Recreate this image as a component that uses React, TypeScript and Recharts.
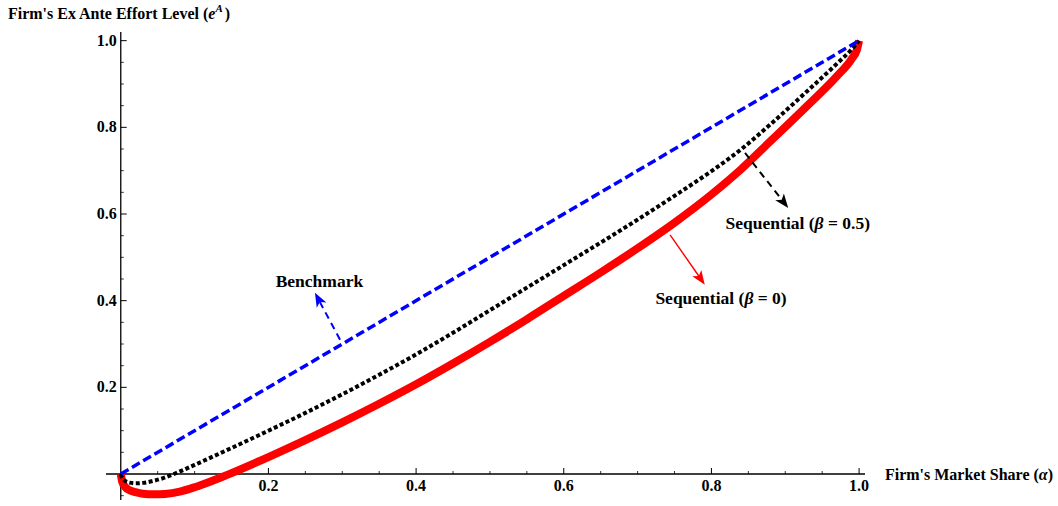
import React from 'react';
import { LineChart, Line, XAxis, YAxis, ReferenceLine, ReferenceDot } from 'recharts';

// Firm's market share (alpha) and ex ante effort level for each series
const benchAlpha = [0, 1];
const benchEffort = [0, 1];

const seqHalfAlpha = [0, 0.002, 0.006, 0.012, 0.02, 0.03, 0.045, 0.06, 0.072, 0.1, 0.15, 0.2, 0.25, 0.3, 0.35, 0.4, 0.45, 0.5, 0.55, 0.6, 0.65, 0.7, 0.75, 0.8, 0.84, 0.88, 0.93, 0.97, 0.99, 1.0];
const seqHalfEffort = [0, -0.01, -0.016, -0.02, -0.0215, -0.0205, -0.0155, -0.008, 0, 0.021, 0.06, 0.1, 0.141, 0.184, 0.229, 0.276, 0.326, 0.378, 0.43, 0.482, 0.534, 0.587, 0.642, 0.699, 0.749, 0.807, 0.884, 0.947, 0.98, 1.0];

const seqZeroAlpha = [0, 0.002, 0.006, 0.012, 0.02, 0.03, 0.045, 0.06, 0.08, 0.1, 0.125, 0.15, 0.2, 0.25, 0.3, 0.35, 0.4, 0.45, 0.5, 0.55, 0.6, 0.65, 0.7, 0.75, 0.8, 0.84, 0.88, 0.93, 0.97, 0.99, 0.997, 1.0];
const seqZeroEffort = [0, -0.018, -0.03, -0.0375, -0.042, -0.0455, -0.047, -0.046, -0.0405, -0.0305, -0.015, 0.002, 0.039, 0.078, 0.119, 0.162, 0.207, 0.255, 0.305, 0.357, 0.411, 0.465, 0.521, 0.58, 0.645, 0.703, 0.768, 0.85, 0.918, 0.958, 0.979, 1.0];

// Axis ticks
const majorTicks = [0.2, 0.4, 0.6, 0.8, 1.0];
const majorTickLabels = ['0.2', '0.4', '0.6', '0.8', '1.0'];
const xMinorTicks = [0.05, 0.1, 0.15, 0.25, 0.3, 0.35, 0.45, 0.5, 0.55, 0.65, 0.7, 0.75, 0.85, 0.9, 0.95];
const yMinorTicks = [-0.05, 0.05, 0.1, 0.15, 0.25, 0.3, 0.35, 0.45, 0.5, 0.55, 0.65, 0.7, 0.75, 0.85, 0.9, 0.95];

const X_DOMAIN = [-0.02, 1.008];
const Y_DOMAIN = [-0.06, 1.02];

const toRows = (xs: number[], ys: number[]) => xs.map((x, i) => ({ x, y: ys[i] }));
const benchData = toRows(benchAlpha, benchEffort);
const seqHalfData = toRows(seqHalfAlpha, seqHalfEffort);
const seqZeroData = toRows(seqZeroAlpha, seqZeroEffort);

const FONT = "'Liberation Serif', 'Times New Roman', serif";

const arrowShape = (color: string, width: number, dash?: string) => (props: any) => {
  const { x1, y1, x2, y2 } = props;
  const dx = x2 - x1;
  const dy = y2 - y1;
  const len = Math.sqrt(dx * dx + dy * dy) || 1;
  const ux = dx / len;
  const uy = dy / len;
  const nx = -uy;
  const ny = ux;
  const L = 14;
  const W = 5.5;
  const bx = x2 - ux * L;
  const by = y2 - uy * L;
  const nxb = x2 - ux * L * 0.75;
  const nyb = y2 - uy * L * 0.75;
  const pts = [
    `${x2},${y2}`,
    `${bx + nx * W},${by + ny * W}`,
    `${nxb},${nyb}`,
    `${bx - nx * W},${by - ny * W}`,
  ].join(' ');
  return (
    <g>
      <line x1={x1} y1={y1} x2={nxb} y2={nyb} stroke={color} strokeWidth={width} strokeDasharray={dash} />
      <polygon points={pts} fill={color} stroke="none" />
    </g>
  );
};

const textLabel = (content: React.ReactNode, anchor: string, dx = 0, dy = 0, size = 16) => (props: any) => {
  const vb = props.viewBox || {};
  const x = (vb.x || 0) + (vb.width || 0) / 2 + dx;
  const y = (vb.y || 0) + (vb.height || 0) / 2 + dy;
  return (
    <text x={x} y={y} textAnchor={anchor} fontFamily={FONT} fontWeight="bold" fontSize={size} fill="#000">
      {content}
    </text>
  );
};

const annotations = [
  { key: 'bench', color: '#0000ff', width: 2, dash: '7 5', start: { x: 0.297, y: 0.31 }, tip: { x: 0.263, y: 0.418 } },
  { key: 'half', color: '#000000', width: 2, dash: '7 5', start: { x: 0.8455, y: 0.741 }, tip: { x: 0.904, y: 0.614 } },
  { key: 'zero', color: '#ff0000', width: 1.4, dash: undefined, start: { x: 0.744, y: 0.552 }, tip: { x: 0.791, y: 0.437 } },
];

export default function App() {
  return (
    <div style={{ position: 'absolute', left: 0, top: 0, width: 1058, height: 506, background: '#fff' }}>
      <LineChart width={1058} height={506} margin={{ top: 32, right: 193, bottom: 6, left: 106 }}>
        <XAxis type="number" dataKey="x" domain={X_DOMAIN} allowDataOverflow hide />
        <YAxis type="number" dataKey="y" domain={Y_DOMAIN} allowDataOverflow hide />

        {/* axes through the origin */}
        <ReferenceLine y={0} stroke="#000" strokeWidth={1.3} />
        <ReferenceLine x={0} stroke="#000" strokeWidth={1.3} />

        {majorTicks.map((t) => (
          <ReferenceLine key={`xM${t}`} segment={[{ x: t, y: 0 }, { x: t, y: 0.0138 }]} stroke="#000" strokeWidth={1} />
        ))}
        {xMinorTicks.map((t) => (
          <ReferenceLine key={`xm${t}`} segment={[{ x: t, y: 0 }, { x: t, y: 0.0069 }]} stroke="#000" strokeWidth={0.8} />
        ))}
        {majorTicks.map((t) => (
          <ReferenceLine key={`yM${t}`} segment={[{ x: 0, y: t }, { x: 0.0081, y: t }]} stroke="#000" strokeWidth={1} />
        ))}
        {yMinorTicks.map((t) => (
          <ReferenceLine key={`ym${t}`} segment={[{ x: 0, y: t }, { x: 0.0041, y: t }]} stroke="#000" strokeWidth={0.8} />
        ))}

        {majorTicks.map((t, i) => (
          <ReferenceDot key={`xl${t}`} x={t} y={0} r={0} ifOverflow="visible" label={textLabel(majorTickLabels[i], 'middle', 0, 17)} />
        ))}
        {majorTicks.map((t, i) => (
          <ReferenceDot key={`yl${t}`} x={0} y={t} r={0} ifOverflow="visible" label={textLabel(majorTickLabels[i], 'end', -4, 5)} />
        ))}

        <Line data={seqZeroData} dataKey="y" type="monotone" stroke="#ff0000" strokeWidth={8} dot={false} isAnimationActive={false} strokeLinecap="butt" strokeLinejoin="round" />
        <Line data={seqHalfData} dataKey="y" type="monotone" stroke="#000000" strokeWidth={4} strokeDasharray="4 2.5" dot={false} isAnimationActive={false} strokeLinecap="butt" />
        <Line data={benchData} dataKey="y" type="linear" stroke="#0000ff" strokeWidth={3.5} strokeDasharray="9 4" dot={false} isAnimationActive={false} strokeLinecap="butt" />

        {annotations.map((a) => (
          <ReferenceLine key={a.key} segment={[a.start, a.tip]} ifOverflow="visible" shape={arrowShape(a.color, a.width, a.dash)} />
        ))}

        <ReferenceDot x={0.269} y={0.446} r={0} ifOverflow="visible" label={textLabel('Benchmark', 'middle', 0, 6, 17.5)} />
        <ReferenceDot
          x={0.917}
          y={0.58}
          r={0}
          ifOverflow="visible"
          label={textLabel(
            <>
              Sequential (<tspan fontStyle="italic">β</tspan> = 0.5)
            </>,
            'middle',
            0,
            6,
            17.5
          )}
        />
        <ReferenceDot
          x={0.813}
          y={0.407}
          r={0}
          ifOverflow="visible"
          label={textLabel(
            <>
              Sequential (<tspan fontStyle="italic">β</tspan> = 0)
            </>,
            'middle',
            0,
            6,
            17.5
          )}
        />
        <ReferenceDot
          x={-0.1528}
          y={1.05}
          r={0}
          ifOverflow="visible"
          label={textLabel(
            <>
              Firm's Ex Ante Effort Level (<tspan fontStyle="italic">e</tspan>
              <tspan fontStyle="italic" fontSize={11} dy={-7}>A</tspan>
              <tspan dy={7} dx={2}>)</tspan>
            </>,
            'start',
            0,
            0
          )}
        />
        <ReferenceDot
          x={1.035}
          y={0}
          r={0}
          ifOverflow="visible"
          label={textLabel(
            <>
              Firm's Market Share (<tspan fontStyle="italic">α</tspan>)
            </>,
            'start',
            0,
            6
          )}
        />
      </LineChart>
    </div>
  );
}
